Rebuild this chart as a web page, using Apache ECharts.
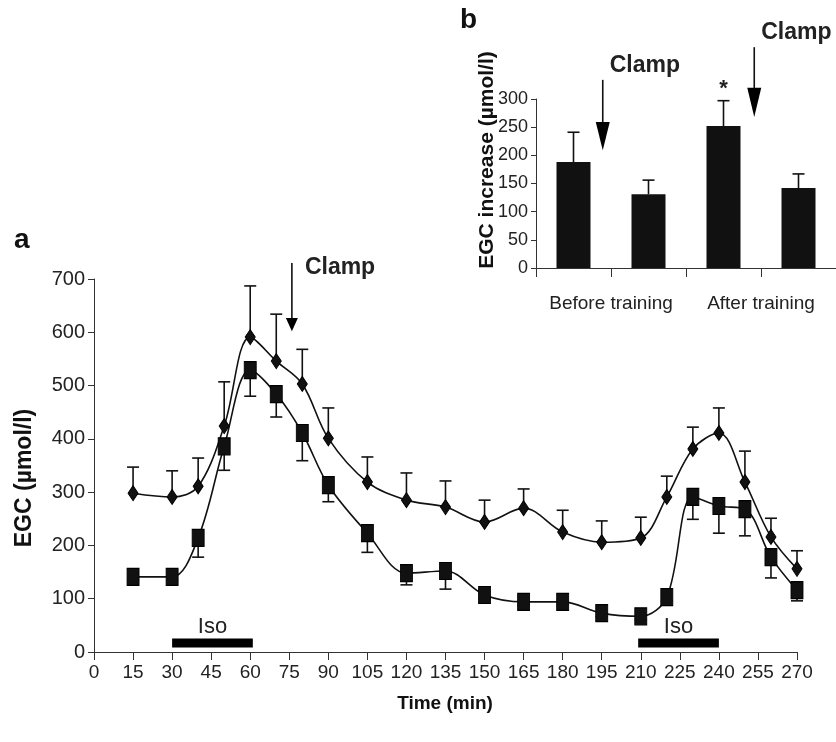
<!DOCTYPE html>
<html>
<head>
<meta charset="utf-8">
<script src="https://cdn.jsdelivr.net/npm/echarts@6/dist/echarts.min.js"></script>
<style>
  html, body { margin: 0; padding: 0; background: #fff; }
  #chart { width: 836px; height: 742px; }
</style>
</head>
<body>
<div id="chart"></div>
<script>
  // panel a: time course
  const times = [15, 30, 40, 50, 60, 70, 80, 90, 105, 120, 135, 150, 165, 180, 195, 210, 220, 230, 240, 250, 260, 270];
  const diamondMean = [298, 291, 311, 424, 591, 546, 503, 401, 319, 285, 272, 244, 270, 225, 206, 214, 291, 381, 411, 319, 216, 156];
  const diamondSem = [49, 49, 53, 83, 96, 88, 65, 57, 47, 51, 49, 41, 36, 41, 40, 39, 39, 41, 47, 58, 35, 34];
  const squareMean = [141, 141, 214, 386, 529, 484, 411, 313, 223, 148, 152, 107, 94, 94, 73, 67, 103, 291, 274, 268, 178, 116];
  const squareSem = [6, 6, 36, 45, 49, 43, 52, 31, 36, 22, 34, 7, 6, 6, 7, 7, 7, 42, 51, 50, 39, 20];
  const isoPeriods = [[30, 61], [209, 240]];
  const isoLevel = 17;
  const clampA = { t: 76, top: 730, headTop: 627, tip: 602 };

  // panel b: EGC increase
  const barGroups = ["Before training", "After training"];
  const barMean = [188, 131, 252, 142];
  const barSem = [53, 25, 45, 25];
  const clampB = [
    { cat: 0, frac: 0.39, top: 334, headTop: 259, tip: 209 },
    { cat: 2, frac: 0.41, top: 392, headTop: 320, tip: 268 }
  ];
  const starBar = 2;

  const FONT = "Liberation Sans, Arial, sans-serif";
  const INK = "#111";
  const TXT = "#222";

  const chart = echarts.init(document.getElementById("chart"));

  function errorBars(dir, capHalf) {
    return function (params, api) {
      const x = api.value(0), y = api.value(1), e = api.value(2);
      const p0 = api.coord([x, y]);
      const p1 = api.coord([x, y + dir * e]);
      const st = { stroke: INK, lineWidth: 1.6 };
      return {
        type: "group",
        children: [
          { type: "line", shape: { x1: p0[0], y1: p0[1], x2: p1[0], y2: p1[1] }, style: st },
          { type: "line", shape: { x1: p1[0] - capHalf, y1: p1[1], x2: p1[0] + capHalf, y2: p1[1] }, style: st }
        ]
      };
    };
  }

  const axisLineStyle = { lineStyle: { color: "#333", width: 1 } };

  chart.setOption({
    animation: false,
    backgroundColor: "#fff",
    grid: [
      { left: 94, right: 39, top: 279, bottom: 90 },
      { left: 536, top: 99, width: 306, height: 169 }
    ],
    xAxis: [
      {
        type: "value", gridIndex: 0, min: 0, max: 270, interval: 15,
        axisLine: axisLineStyle,
        axisTick: { show: true, inside: false, length: 8, lineStyle: { color: "#333" } },
        axisLabel: { color: TXT, fontFamily: FONT, fontSize: 19, margin: 11 },
        splitLine: { show: false }
      },
      {
        type: "category", gridIndex: 1, data: ["", "", "", ""],
        axisLine: { onZero: false, lineStyle: { color: "#333", width: 1 } },
        axisTick: { show: true, alignWithLabel: false, length: 9, lineStyle: { color: "#333" } },
        axisLabel: { show: false }
      },
      {
        type: "category", gridIndex: 1, data: barGroups, position: "bottom",
        axisLine: { show: false }, axisTick: { show: false },
        axisLabel: { interval: 0, hideOverlap: false, color: TXT, fontFamily: FONT, fontSize: 19, margin: 26 }
      }
    ],
    yAxis: [
      {
        type: "value", gridIndex: 0, min: 0, max: 700, interval: 100,
        axisLine: { show: true, lineStyle: { color: "#333", width: 1 } },
        axisTick: { show: true, length: 6, lineStyle: { color: "#333" } },
        axisLabel: { color: TXT, fontFamily: FONT, fontSize: 20, margin: 9 },
        splitLine: { show: false }
      },
      {
        type: "value", gridIndex: 1, min: 0, max: 300, interval: 50,
        axisLine: { show: true, lineStyle: { color: "#333", width: 1 } },
        axisTick: { show: true, length: 5, lineStyle: { color: "#333" } },
        axisLabel: { color: TXT, fontFamily: FONT, fontSize: 18, margin: 8 },
        splitLine: { show: false }
      }
    ],
    series: [
      {
        type: "custom", xAxisIndex: 0, yAxisIndex: 0, z: 1,
        renderItem: errorBars(1, 6),
        data: times.map((t, i) => [t, diamondMean[i], diamondSem[i]])
      },
      {
        type: "custom", xAxisIndex: 0, yAxisIndex: 0, z: 1,
        renderItem: errorBars(-1, 6),
        data: times.map((t, i) => [t, squareMean[i], squareSem[i]])
      },
      {
        type: "line", xAxisIndex: 0, yAxisIndex: 0, z: 3,
        smooth: 0.35,
        symbol: "diamond", symbolSize: [10, 15],
        itemStyle: { color: INK, borderColor: "#000", borderWidth: 1 },
        lineStyle: { color: INK, width: 1.6 },
        data: times.map((t, i) => [t, diamondMean[i]])
      },
      {
        type: "line", xAxisIndex: 0, yAxisIndex: 0, z: 3,
        smooth: 0.35,
        symbol: "rect", symbolSize: [12, 17],
        itemStyle: { color: INK, borderColor: "#000", borderWidth: 1 },
        lineStyle: { color: INK, width: 1.6 },
        data: times.map((t, i) => [t, squareMean[i]])
      },
      {
        type: "custom", xAxisIndex: 0, yAxisIndex: 0, z: 2,
        renderItem: function (params, api) {
          const a = api.coord([api.value(0), isoLevel]);
          const b = api.coord([api.value(1), isoLevel]);
          return {
            type: "group",
            children: [
              { type: "rect", shape: { x: a[0], y: a[1] - 4.5, width: b[0] - a[0], height: 9 }, style: { fill: "#000" } },
              {
                type: "text",
                style: {
                  text: "Iso", x: (a[0] + b[0]) / 2, y: a[1] - 16,
                  fill: TXT, font: "22px " + FONT, textAlign: "center", textVerticalAlign: "middle"
                }
              }
            ]
          };
        },
        data: isoPeriods
      },
      {
        type: "bar", xAxisIndex: 1, yAxisIndex: 1, z: 2,
        barWidth: 34,
        itemStyle: { color: INK },
        data: barMean
      },
      {
        type: "custom", xAxisIndex: 1, yAxisIndex: 1, z: 1,
        renderItem: errorBars(1, 6),
        data: barMean.map((v, i) => [i, v, barSem[i]])
      }
    ]
  });

  // annotations placed through the axes
  function arrow(x, yTop, yHeadTop, yTip, halfW) {
    return [
      { type: "line", shape: { x1: x, y1: yTop, x2: x, y2: yHeadTop + 2 }, style: { stroke: INK, lineWidth: 1.6 } },
      { type: "polygon", shape: { points: [[x - halfW, yHeadTop], [x + halfW, yHeadTop], [x, yTip]] }, style: { fill: "#000" } }
    ];
  }

  const g = [];
  const ax = chart.convertToPixel({ gridIndex: 0 }, [clampA.t, clampA.top]);
  const axHead = chart.convertToPixel({ gridIndex: 0 }, [clampA.t, clampA.headTop]);
  const axTip = chart.convertToPixel({ gridIndex: 0 }, [clampA.t, clampA.tip]);
  g.push(...arrow(ax[0], ax[1], axHead[1], axTip[1], 6));
  g.push({
    type: "text", left: ax[0] + 13, top: ax[1] - 7,
    style: { text: "Clamp", fill: TXT, font: "bold 23px " + FONT }
  });

  const c0 = chart.convertToPixel({ xAxisIndex: 1 }, 0);
  const c1 = chart.convertToPixel({ xAxisIndex: 1 }, 1);
  const band = c1 - c0;
  clampB.forEach(function (c) {
    const x = chart.convertToPixel({ xAxisIndex: 1 }, c.cat) + c.frac * band;
    const yTop = chart.convertToPixel({ yAxisIndex: 1 }, c.top);
    const yHead = chart.convertToPixel({ yAxisIndex: 1 }, c.headTop);
    const yTip = chart.convertToPixel({ yAxisIndex: 1 }, c.tip);
    g.push(...arrow(x, yTop, yHead, yTip, 7));
    g.push({
      type: "text", left: x + 7, top: yTop - 26,
      style: { text: "Clamp", fill: TXT, font: "bold 23px " + FONT }
    });
  });

  const sx = chart.convertToPixel({ xAxisIndex: 1 }, starBar);
  const sy = chart.convertToPixel({ yAxisIndex: 1 }, barMean[starBar] + barSem[starBar]);
  g.push({
    type: "text", x: sx, y: sy - 12,
    style: { text: "*", fill: TXT, font: "bold 22px " + FONT, textAlign: "center", textVerticalAlign: "middle" }
  });

  g.push(
    { type: "text", left: 14, top: 226, style: { text: "a", fill: "#111", font: "bold 28px " + FONT } },
    { type: "text", left: 460, top: 6, style: { text: "b", fill: "#111", font: "bold 28px " + FONT } },
    {
      type: "text", x: 25, y: 478, rotation: Math.PI / 2,
      style: { text: "EGC (µmol/l)", fill: "#111", font: "bold 23px " + FONT, textAlign: "center", textVerticalAlign: "middle" }
    },
    {
      type: "text", x: 487, y: 160, rotation: Math.PI / 2,
      style: { text: "EGC increase (µmol/l)", fill: "#111", font: "bold 21px " + FONT, textAlign: "center", textVerticalAlign: "middle" }
    },
    {
      type: "text", x: 445, y: 704,
      style: { text: "Time (min)", fill: "#111", font: "bold 19px " + FONT, textAlign: "center", textVerticalAlign: "middle" }
    }
  );

  chart.setOption({ graphic: g });
</script>
</body>
</html>
